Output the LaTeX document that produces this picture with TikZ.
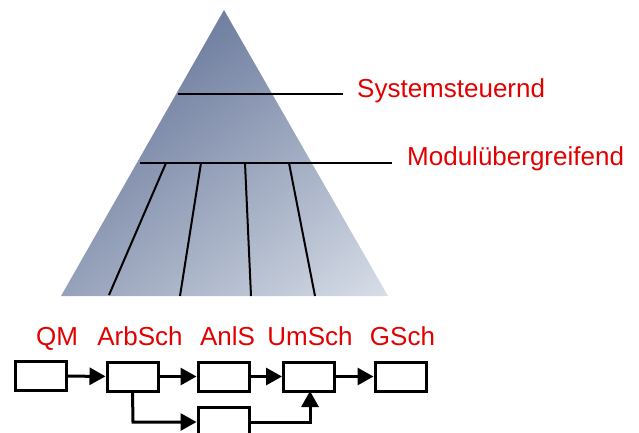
\documentclass[tikz,border=0pt]{standalone}
\usepackage{fontspec}
\setmainfont{Liberation Sans}
\usetikzlibrary{arrows.meta,shadings}
\definecolor{lblred}{RGB}{226,0,0}
\definecolor{pyrA}{RGB}{84,100,140}
\definecolor{pyrB}{RGB}{140,153,180}
\definecolor{pyrC}{RGB}{150,162,186}
\definecolor{pyrD}{RGB}{216,222,232}
\begin{document}
\begin{tikzpicture}[x=1pt,y=-1pt,
  lbl/.style={text=lblred,font=\fontsize{26}{30}\selectfont,inner sep=0pt},
  procbox/.style={draw=black,line width=3pt,fill=white,minimum width=51pt,minimum height=29pt,inner sep=0pt},
  flow/.style={line width=3pt,-{Triangle[length=16pt,width=17pt]}},
  pline/.style={line width=2pt}]
\useasboundingbox (0,0) rectangle (639,432);
\clip (0,0) rectangle (639,432);
% pyramid
\coordinate (apex) at (224,10);
\coordinate (bl) at (61,296);
\coordinate (br) at (388,296);
\begin{scope}
\clip (apex) -- (br) -- (bl) -- cycle;
\shade[upper left=pyrA,upper right=pyrB,lower left=pyrC,lower right=pyrD] (61,10) rectangle (388,296);
\end{scope}
% level lines
\coordinate (s1) at (178,94);
\coordinate (s2) at (343,94);
\coordinate (m1) at (140,163);
\coordinate (m2) at (392,163);
\draw[pline] (s1) -- (s2);
\draw[pline] (m1) -- (m2);
\coordinate (a1) at (166,163); \coordinate (b1) at (109,295);
\coordinate (a2) at (201,163); \coordinate (b2) at (180,296);
\coordinate (a3) at (245,163); \coordinate (b3) at (251,296);
\coordinate (a4) at (289,163); \coordinate (b4) at (315,296);
\draw[pline] (a1) -- (b1);
\draw[pline] (a2) -- (b2);
\draw[pline] (a3) -- (b3);
\draw[pline] (a4) -- (b4);
\node[lbl,anchor=base west] (sys) at (357,97) {Systemsteuernd};
\node[lbl,anchor=base west] (mod) at (407,165) {Modulübergreifend};
% bottom labels
\node[lbl,anchor=base] (lqm) at (57,345) {QM};
\node[lbl,anchor=base] (larb) at (140,345) {ArbSch};
\node[lbl,anchor=base] (lanl) at (227.5,345) {AnlS};
\node[lbl,anchor=base] (lum) at (310,345) {UmSch};
\node[lbl,anchor=base] (lg) at (402.5,345) {GSch};
% boxes
\node[procbox] (b1n) at (41,376) {};
\node[procbox] (b2n) at (132.5,376.5) {};
\node[procbox] (b3n) at (223.5,376.5) {};
\node[procbox] (b4n) at (309,376.5) {};
\node[procbox] (b5n) at (400.5,376.5) {};
\node[procbox,minimum height=40pt] (b6n) at (223.5,427) {};
\draw[flow] (b1n) -- (b2n);
\draw[flow] (b2n) -- (b3n);
\draw[flow] (b3n) -- (b4n);
\draw[flow] (b4n) -- (b5n);
\draw[flow] (b2n.south) -- (133,422) -- (b6n.west |- 0,422);
\draw[flow] (b6n.east |- 0,422) -- (310,422) -- (310,391);
\end{tikzpicture}
\end{document}
